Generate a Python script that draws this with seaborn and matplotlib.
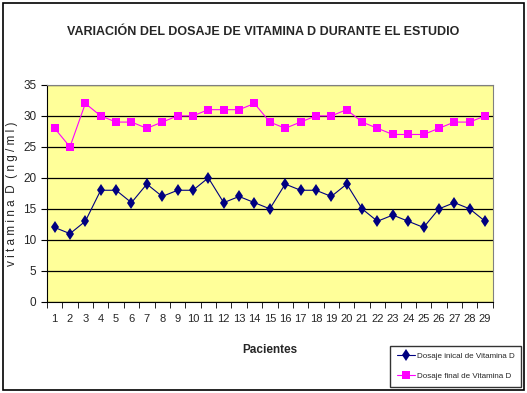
import pandas as pd
import seaborn as sns
import matplotlib.pyplot as plt
from matplotlib.patches import Rectangle

# --- datos ---
pacientes = list(range(1, 30))
dosaje_inicial = [12, 11, 13, 18, 18, 16, 19, 17, 18, 18, 20, 16, 17, 16, 15,
                  19, 18, 18, 17, 19, 15, 13, 14, 13, 12, 15, 16, 15, 13]
dosaje_final = [28, 25, 32, 30, 29, 29, 28, 29, 30, 30, 31, 31, 31, 32, 29,
                28, 29, 30, 30, 31, 29, 28, 27, 27, 27, 28, 29, 29, 30]
serie_ini = 'Dosaje inical de Vitamina D'
serie_fin = 'Dosaje final de Vitamina D'

df = pd.DataFrame({
    'paciente': pacientes * 2,
    'valor': dosaje_inicial + dosaje_final,
    'serie': [serie_ini] * len(pacientes) + [serie_fin] * len(pacientes),
})

sns.set_style('white')
plt.rcParams['font.family'] = ['Liberation Sans Narrow', 'Liberation Sans', 'DejaVu Sans']

fig = plt.figure(figsize=(5.27, 3.93), dpi=100)
ax = fig.add_axes([0.089, 0.232, 0.846, 0.552])
ax.set_facecolor('#FFFF99')

sns.lineplot(data=df, x='paciente', y='valor', hue='serie', style='serie',
             hue_order=[serie_ini, serie_fin], style_order=[serie_ini, serie_fin],
             palette=['#000080', '#FF00FF'], markers=['d', 's'], dashes=False,
             markersize=6, linewidth=0.8, markeredgewidth=0, ax=ax)

ax.set_xlim(0.5, 29.5)
ax.set_ylim(0, 35)
ax.set_yticks(range(0, 36, 5))
ax.set_xticks(pacientes)
ax.set_xticks([p + 0.5 for p in range(0, 30)], minor=True)
ax.tick_params(axis='x', which='major', length=0, labelsize=8, pad=9)
ax.tick_params(axis='x', which='minor', length=4, direction='out', color='black', bottom=True)
ax.tick_params(axis='y', length=4, direction='out', color='black', left=True, labelsize=8.5)
ax.grid(axis='y', color='black', linewidth=0.9)
ax.set_axisbelow(True)
for s in ['top', 'right']:
    ax.spines[s].set_color('#808080')
for s in ['left', 'bottom']:
    ax.spines[s].set_color('black')

ax.set_xlabel('Pacientes', fontsize=8.5, fontweight='bold', labelpad=14)
ax.set_ylabel('v i t a m i n a  D  ( n g / m l )', fontsize=8.5, labelpad=4)

fig.suptitle('VARIACIÓN DEL DOSAJE DE VITAMINA D DURANTE EL ESTUDIO',
             fontsize=9, fontweight='bold', y=0.935)

leg = ax.legend(loc='lower right', bbox_to_anchor=(0.989, 0.016), bbox_transform=fig.transFigure,
                fontsize=5.8, frameon=True, fancybox=False, edgecolor='black',
                handlelength=2.2, handletextpad=0.3, borderpad=0.8, labelspacing=1.6,
                borderaxespad=0)
leg.get_frame().set_linewidth(1.0)

fig.patches.append(Rectangle((0.006, 0.008), 0.988, 0.984, transform=fig.transFigure,
                             fill=False, edgecolor='black', linewidth=1.2))

fig.savefig('out.png', dpi=100)
